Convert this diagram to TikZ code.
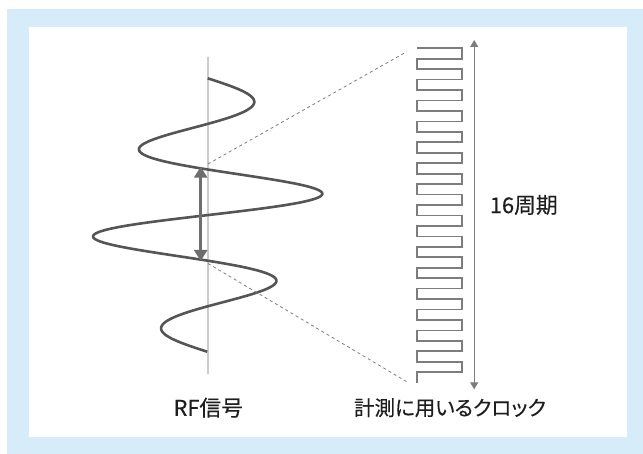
\documentclass[tikz,border=0pt]{standalone}
\usepackage{fontspec}
\setmainfont{Noto Sans CJK JP}[FakeBold=0.35]
\newfontfamily\jpprop{Noto Sans CJK JP}[RawFeature=+palt, FakeBold=0.35]
\usetikzlibrary{arrows.meta}
\definecolor{bandblue}{RGB}{214,236,249}
\definecolor{wavegray}{RGB}{85,85,85}
\definecolor{axisgray}{RGB}{204,204,204}
\definecolor{clockgray}{RGB}{125,125,125}
\definecolor{arrowgray}{RGB}{110,110,110}
\definecolor{txt}{RGB}{30,30,30}
\tikzset{
  wave/.style={draw=wavegray, line width=2.6pt, line join=round},
  axisline/.style={draw=axisgray, line width=2.4pt},
  clocksig/.style={draw=clockgray, line width=1.7pt, line join=miter},
  guide/.style={draw=clockgray, line width=0.8pt, dash pattern=on 3pt off 3pt},
  bigarrow/.style={draw=arrowgray, line width=2.6pt, {Triangle[width=13pt,length=11pt]}-{Triangle[width=13pt,length=11pt]}, fill=arrowgray},
  spanarrow/.style={draw=clockgray, line width=1.3pt, {Triangle[width=8pt,length=7pt]}-{Triangle[width=8pt,length=7pt]}},
  label/.style={text=txt, font=\fontsize{20.5}{24}\selectfont, inner sep=0pt},
  biglabel/.style={label, font=\fontsize{21.8}{26}\selectfont}
}
\begin{document}
\begin{tikzpicture}[x=1pt,y=-1pt]
\useasboundingbox (0,0) rectangle (643,454);
% background
\fill[bandblue] (7,9) rectangle (643,454);
\fill[white] (29,27) rectangle (627,437);
% axis
\coordinate (axtop) at (207.7,56.7);
\coordinate (axbot) at (207.7,374);
\draw[axisline] (axtop) -- (axbot);
% wave
\draw[wave] plot[domain=0:3, samples=301, variable=\t]
  ({207.7 + (43.8+80.4*exp(-((\t*91.2-136.8)/62)^2))*sin(\t*360)}, {78.3+\t*91.2});
% crossing points and guide lines
\coordinate (cross1) at (208,164);
\coordinate (cross2) at (208,263.5);
\coordinate (ctop) at (406.7,51.7);
\coordinate (cbot) at (406.7,381.7);
\draw[guide] (cross1) -- (ctop);
\draw[guide] (cross2) -- (cbot);
% period arrow
\coordinate (pa1) at (200.7,166.7);
\coordinate (pa2) at (200.7,261);
\draw[bigarrow] (pa1) -- (pa2);
% clock
\coordinate (clk) at (417,48.3);
\draw[clocksig] (clk) foreach \i in {1,...,16} { -- ++(45,0) -- ++(0,10.45) -- ++(-45,0) -- ++(0,10.45) };
% span arrow
\coordinate (sa1) at (474.2,40);
\coordinate (sa2) at (474.2,389.3);
\draw[spanarrow] (sa1) -- (sa2);
% labels
\node[biglabel] (rf) at (208.3,407.7) {RF信号};
\node[label] (clklabel) at (450,407.7) {\jpprop 計測に用いるクロック};
\node[biglabel] (per) at (523.8,205) {16周期};
\end{tikzpicture}
\end{document}
